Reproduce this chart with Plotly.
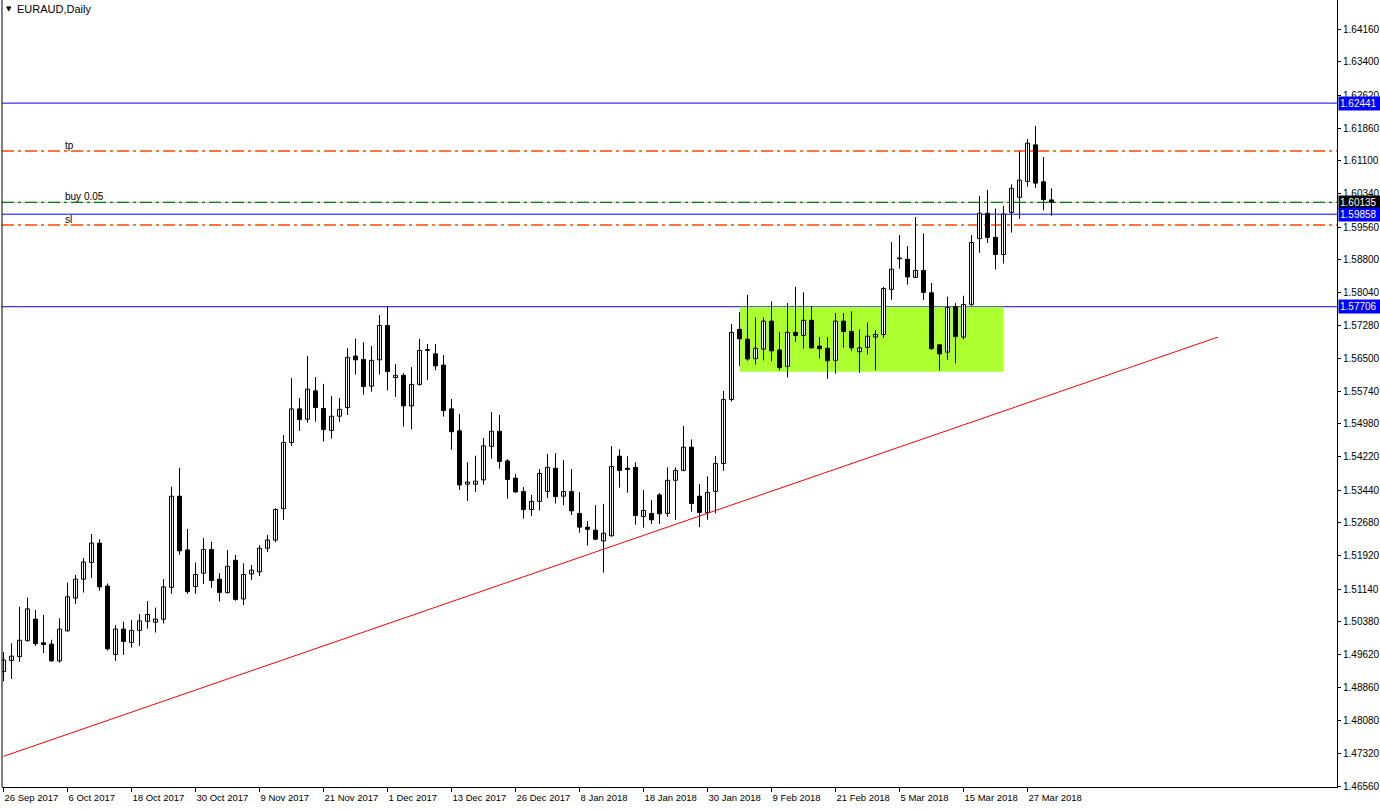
import plotly.graph_objects as go

# ---------------- data (EURAUD daily) ----------------
open_ = [1.4922,1.4948,1.4957,1.4994,1.5044,1.4989,1.4986,1.4947,1.5017,1.5093,
         1.5137,1.5176,1.5221,1.5121,1.4962,1.5021,1.4990,1.5018,1.5039,1.5037,
         1.5044,1.5118,1.5330,1.5205,1.5120,1.5151,1.5206,1.5137,1.5106,1.5181,
         1.5091,1.5149,1.5154,1.5209,1.5228,1.5301,1.5455,1.5533,1.5509,1.5575,
         1.5534,1.5483,1.5516,1.5536,1.5656,1.5648,1.5586,1.5647,1.5727,1.5606,
         1.5611,1.5540,1.5590,1.5669,1.5661,1.5635,1.5533,1.5482,1.5358,1.5358,
         1.5368,1.5446,1.5481,1.5412,1.5372,1.5341,1.5299,1.5318,1.5341,1.5395,
         1.5330,1.5341,1.5290,1.5258,1.5251,1.5226,1.5238,1.5423,1.5395,1.5397,
         1.5283,1.5290,1.5333,1.5290,1.5367,1.5390,1.5444,1.5330,1.5292,1.5341,
         1.5406,1.5555,1.5718,1.5695,1.5650,1.5672,1.5737,1.5670,1.5632,1.5711,
         1.5704,1.5739,1.5679,1.5674,1.5646,1.5737,1.5713,1.5666,1.5676,1.5700,
         1.5706,1.5811,1.5882,1.5881,1.5839,1.5855,1.5803,1.5682,1.5665,1.5771,
         1.5700,1.5776,1.5929,1.5988,1.5932,1.5892,1.5990,1.6025,1.6062,1.6147,
         1.6061,1.6019]
high = [1.4968,1.4988,1.5073,1.5094,1.5065,1.5054,1.4996,1.5046,1.5129,1.5147,
        1.5186,1.5242,1.5230,1.5127,1.5030,1.5038,1.5042,1.5056,1.5086,1.5071,
        1.5137,1.5352,1.5396,1.5254,1.5176,1.5233,1.5224,1.5151,1.5205,1.5193,
        1.5174,1.5170,1.5216,1.5240,1.5302,1.5472,1.5605,1.5558,1.5656,1.5607,
        1.5591,1.5563,1.5558,1.5674,1.5697,1.5688,1.5679,1.5751,1.5772,1.5637,
        1.5616,1.5630,1.5696,1.5684,1.5684,1.5658,1.5556,1.5521,1.5409,1.5424,
        1.5465,1.5526,1.5519,1.5416,1.5382,1.5351,1.5333,1.5393,1.5428,1.5430,
        1.5414,1.5393,1.5340,1.5272,1.5309,1.5312,1.5447,1.5439,1.5423,1.5409,
        1.5344,1.5321,1.5337,1.5397,1.5397,1.5493,1.5462,1.5358,1.5376,1.5423,
        1.5575,1.5730,1.5758,1.5798,1.5746,1.5746,1.5783,1.5712,1.5779,1.5817,
        1.5804,1.5772,1.5700,1.5700,1.5756,1.5756,1.5760,1.5718,1.5734,1.5716,
        1.5817,1.5921,1.5937,1.5912,1.5979,1.5941,1.5826,1.5684,1.5794,1.5779,
        1.5796,1.5937,1.6028,1.6042,1.5999,1.6005,1.6055,1.6132,1.6161,1.6191,
        1.6119,1.6046]
low = [1.4899,1.4905,1.4945,1.4992,1.4982,1.4965,1.4945,1.4943,1.5015,1.5079,
       1.5106,1.5140,1.5110,1.4971,1.4947,1.4961,1.4978,1.4982,1.5022,1.5013,
       1.5034,1.5103,1.5194,1.5103,1.5103,1.5126,1.5117,1.5085,1.5103,1.5087,
       1.5077,1.5135,1.5144,1.5200,1.5223,1.5275,1.5447,1.5482,1.5501,1.5503,
       1.5457,1.5464,1.5503,1.5519,1.5613,1.5566,1.5573,1.5613,1.5576,1.5561,
       1.5492,1.5485,1.5587,1.5600,1.5623,1.5515,1.5438,1.5344,1.5319,1.5340,
       1.5357,1.5417,1.5394,1.5324,1.5338,1.5278,1.5284,1.5297,1.5326,1.5313,
       1.5309,1.5286,1.5245,1.5215,1.5228,1.5152,1.5236,1.5350,1.5338,1.5264,
       1.5257,1.5265,1.5265,1.5282,1.5275,1.5388,1.5294,1.5258,1.5275,1.5290,
       1.5389,1.5550,1.5633,1.5645,1.5636,1.5646,1.5644,1.5622,1.5606,1.5689,
       1.5673,1.5673,1.5650,1.5603,1.5615,1.5675,1.5668,1.5617,1.5659,1.5623,
       1.5698,1.5787,1.5859,1.5822,1.5838,1.5786,1.5670,1.5622,1.5647,1.5639,
       1.5695,1.5772,1.5896,1.5919,1.5857,1.5871,1.5943,1.5975,1.6050,1.6047,
       1.5995,1.5982]
close = [1.4949,1.4958,1.4995,1.5068,1.4987,1.4985,1.4947,1.5021,1.5096,1.5137,
         1.5177,1.5221,1.5119,1.4975,1.5021,1.4992,1.5018,1.5040,1.5055,1.5044,
         1.5119,1.5330,1.5203,1.5108,1.5148,1.5206,1.5134,1.5106,1.5167,1.5090,
         1.5148,1.5158,1.5209,1.5228,1.5299,1.5455,1.5533,1.5508,1.5579,1.5536,
         1.5485,1.5516,1.5532,1.5653,1.5647,1.5585,1.5646,1.5727,1.5620,1.5611,
         1.5540,1.5590,1.5669,1.5671,1.5633,1.5529,1.5480,1.5356,1.5363,1.5365,
         1.5447,1.5481,1.5411,1.5369,1.5340,1.5299,1.5318,1.5383,1.5397,1.5329,
         1.5341,1.5296,1.5258,1.5253,1.5230,1.5244,1.5399,1.5390,1.5392,1.5285,
         1.5297,1.5275,1.5289,1.5367,1.5390,1.5444,1.5313,1.5292,1.5339,1.5406,
         1.5555,1.5711,1.5696,1.5649,1.5674,1.5737,1.5668,1.5629,1.5711,1.5704,
         1.5739,1.5675,1.5673,1.5645,1.5737,1.5713,1.5675,1.5675,1.5702,1.5706,
         1.5813,1.5858,1.5884,1.5840,1.5855,1.5804,1.5673,1.5661,1.5769,1.5701,
         1.5776,1.5920,1.5988,1.5932,1.5892,1.5986,1.6046,1.6065,1.6151,1.6058,
         1.6020,1.60135]

date_labels = ["26 Sep 2017", "6 Oct 2017", "18 Oct 2017", "30 Oct 2017", "9 Nov 2017",
               "21 Nov 2017", "1 Dec 2017", "13 Dec 2017", "26 Dec 2017", "8 Jan 2018",
               "18 Jan 2018", "30 Jan 2018", "9 Feb 2018", "21 Feb 2018", "5 Mar 2018",
               "15 Mar 2018", "27 Mar 2018"]
price_labels = ["1.46560", "1.47320", "1.48080", "1.48860", "1.49620", "1.50380",
                "1.51140", "1.51920", "1.52680", "1.53440", "1.54220", "1.54980",
                "1.55740", "1.56500", "1.57280", "1.58040", "1.58800", "1.59560",
                "1.60340", "1.61100", "1.61860", "1.62620", "1.63400", "1.64160"]

blue_levels = [1.62441, 1.59858, 1.57706]
tp_level = 1.61327
sl_level = 1.59607
buy_level = 1.60135
bid_level = 1.60135
zone_bars = [92, 125]
zone_prices = [1.56195, 1.57706]
trend_bars = [0, 151.8]
trend_prices = [1.4725, 1.5700]

# ---------------- figure ----------------
n = len(open_)
idx = list(range(n))
tick_idx = list(range(0, 8 * len(date_labels), 8))

FONT = "Liberation Sans, Arial, sans-serif"
fig = go.Figure()

# wicks
wx, wy = [], []
for i in idx:
    wx += [i, i, None]
    wy += [low[i], high[i], None]
fig.add_trace(go.Scatter(x=wx, y=wy, mode="lines", line=dict(color="black", width=1),
                         hoverinfo="skip"))

# bodies
up_x, up_b, up_h, dn_x, dn_b, dn_h = [], [], [], [], [], []
for i in idx:
    o, c = open_[i], close[i]
    if c >= o:
        up_x.append(i); up_b.append(o); up_h.append(c - o)
    else:
        dn_x.append(i); dn_b.append(c); dn_h.append(o - c)
fig.add_trace(go.Bar(x=up_x, y=up_h, base=up_b, width=0.5,
                     marker=dict(color="white", line=dict(color="black", width=1))))
fig.add_trace(go.Bar(x=dn_x, y=dn_h, base=dn_b, width=0.5,
                     marker=dict(color="black", line=dict(color="black", width=1))))

# trend line
fig.add_trace(go.Scatter(x=trend_bars, y=trend_prices, mode="lines",
                         line=dict(color="#FF0000", width=1), hoverinfo="skip"))

shapes = []
shapes.append(dict(type="rect", xref="x", yref="y", x0=zone_bars[0], x1=zone_bars[1],
                   y0=zone_prices[0], y1=zone_prices[1], fillcolor="#ADFF2F",
                   line=dict(width=0), layer="below"))
for lv in blue_levels:
    shapes.append(dict(type="line", xref="paper", yref="y", x0=0, x1=1, y0=lv, y1=lv,
                       line=dict(color="#0000FF", width=1), layer="below"))
shapes.append(dict(type="line", xref="paper", yref="y", x0=0, x1=1, y0=bid_level, y1=bid_level,
                   line=dict(color="#C0C0C0", width=1), layer="below"))
dd = "12px,4px,3px,4px"
shapes.append(dict(type="line", xref="paper", yref="y", x0=0, x1=1, y0=buy_level, y1=buy_level,
                   line=dict(color="#008000", width=1.3, dash=dd), layer="below"))
for lv in (tp_level, sl_level):
    shapes.append(dict(type="line", xref="paper", yref="y", x0=0, x1=1, y0=lv, y1=lv,
                       line=dict(color="#FF4500", width=1.3, dash=dd), layer="below"))
shapes.append(dict(type="line", xref="paper", yref="paper", x0=0, x1=0, y0=0, y1=1,
                   line=dict(color="black", width=1)))

annotations = []
annotations.append(dict(xref="paper", yref="paper", x=0, y=1, xanchor="left", yanchor="top",
                        xshift=2, yshift=-3, text="▼", showarrow=False,
                        font=dict(family="DejaVu Sans", size=7, color="black")))
annotations.append(dict(xref="paper", yref="paper", x=0, y=1, xanchor="left", yanchor="top",
                        xshift=13, yshift=-1, text="EURAUD,Daily", showarrow=False,
                        font=dict(family=FONT, size=11, color="black")))
for txt, lv in (("tp", tp_level), ("buy 0.05", buy_level), ("sl", sl_level)):
    annotations.append(dict(xref="x", yref="y", x=7.4, y=lv, xanchor="left", yanchor="bottom",
                            yshift=-2, text=txt, showarrow=False,
                            font=dict(family=FONT, size=10, color="black")))
for lv, bg in ((blue_levels[0], "#0000FF"), (buy_level, "#000000"),
               (blue_levels[1], "#0000FF"), (blue_levels[2], "#0000FF")):
    annotations.append(dict(xref="paper", yref="y", x=1, y=lv, xanchor="left", yanchor="middle",
                            xshift=1, text=f"{lv:.5f}", showarrow=False, bgcolor=bg,
                            borderpad=1, width=40, align="left",
                            font=dict(family=FONT, size=10, color="white")))

fig.update_layout(
    width=1380, height=811,
    margin=dict(l=2, r=43, t=0, b=24, autoexpand=False),
    plot_bgcolor="white", paper_bgcolor="white",
    showlegend=False, barmode="overlay",
    shapes=shapes, annotations=annotations,
    font=dict(family=FONT, size=10, color="black"),
    xaxis=dict(range=[-0.19, 166.69], tickvals=tick_idx, ticktext=date_labels,
               ticks="outside", ticklen=4, tickcolor="black", showline=True,
               linecolor="black", linewidth=1, showgrid=False, zeroline=False,
               ticklabelposition="outside right", tickangle=0, automargin=False,
               ticklabelstandoff=2,
               tickfont=dict(family=FONT, size=9.5, color="black")),
    yaxis=dict(range=[1.46537, 1.64839], side="right",
               tickvals=[float(s) for s in price_labels], ticktext=price_labels,
               ticks="outside", ticklen=3, tickcolor="black", showline=True,
               linecolor="black", linewidth=1, showgrid=False, zeroline=False,
               automargin=False,
               tickfont=dict(family=FONT, size=10, color="black")),
)

fig.write_html("out.html", config={"displayModeBar": False})
